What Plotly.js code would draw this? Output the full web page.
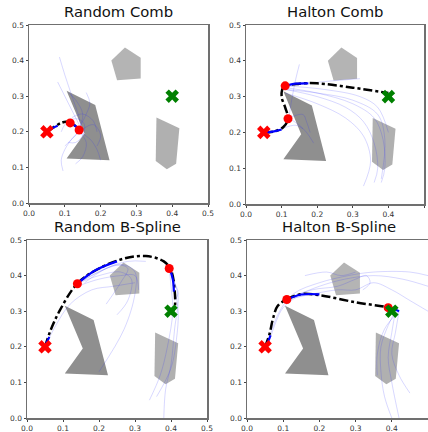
<!DOCTYPE html>
<html><head><meta charset="utf-8">
<script src="https://cdn.plot.ly/plotly-3.0.1.min.js"></script>
<style>html,body{margin:0;padding:0;background:#fff}#plot{width:428px;height:432px}</style>
</head><body><div id="plot"></div>
<script>
// ---- Data ----
const panelTitles = ["Random Comb", "Halton Comb", "Random B-Spline", "Halton B-Spline"];
const tickVals = [0.0, 0.1, 0.2, 0.3, 0.4, 0.5];
const tickText = ["0.0", "0.1", "0.2", "0.3", "0.4", "0.5"];

const obstacleArrowX = [0.105, 0.185, 0.225, 0.105, 0.155, 0.105];
const obstacleArrowY = [0.315, 0.275, 0.120, 0.125, 0.195, 0.315];
const obstaclePentX = [0.268, 0.312, 0.312, 0.246, 0.230, 0.268];
const obstaclePentY = [0.437, 0.408, 0.350, 0.345, 0.400, 0.437];
const obstacleQuadX = [0.356, 0.420, 0.411, 0.385, 0.354, 0.356];
const obstacleQuadY = [0.240, 0.210, 0.110, 0.095, 0.118, 0.240];

const startX = [0.05], startY = [0.20];
const goalX = [0.40], goalY = [0.30];

// Random Comb
const rcPathX = [0.05, 0.09, 0.105, 0.125, 0.14];
const rcPathY = [0.20, 0.225, 0.228, 0.22, 0.205];
const rcWayX = [0.115, 0.14];
const rcWayY = [0.225, 0.205];
const rcSegs = [
  [[0.05, 0.065, 0.08], [0.20, 0.21, 0.217]],
  [[0.118, 0.13, 0.14], [0.223, 0.216, 0.205]]
];
const rcFaint = [
  [[0.085, 0.10, 0.12, 0.14, 0.145], [0.41, 0.36, 0.30, 0.24, 0.21]],
  [[0.08, 0.10, 0.12, 0.14], [0.34, 0.30, 0.26, 0.22]],
  [[0.14, 0.16, 0.17, 0.16], [0.21, 0.25, 0.28, 0.31]],
  [[0.14, 0.12, 0.10, 0.09, 0.095], [0.20, 0.18, 0.15, 0.12, 0.09]],
  [[0.14, 0.17, 0.19, 0.20], [0.20, 0.18, 0.15, 0.12]],
  [[0.09, 0.10, 0.12, 0.14, 0.155, 0.15, 0.13, 0.11], [0.20, 0.22, 0.235, 0.235, 0.22, 0.19, 0.17, 0.17]],
  [[0.10, 0.12, 0.14, 0.18, 0.20, 0.19], [0.16, 0.18, 0.20, 0.22, 0.19, 0.16]],
  [[0.14, 0.15, 0.13, 0.11], [0.205, 0.25, 0.29, 0.31]],
  [[0.14, 0.16, 0.15, 0.13], [0.20, 0.17, 0.13, 0.11]],
  [[0.12, 0.15, 0.18, 0.19], [0.24, 0.25, 0.23, 0.20]]
];

// Halton Comb
const hcPathX = [0.05, 0.08, 0.105, 0.118, 0.11, 0.10, 0.105, 0.15, 0.20, 0.30, 0.40];
const hcPathY = [0.20, 0.203, 0.215, 0.238, 0.27, 0.30, 0.325, 0.336, 0.337, 0.325, 0.31];
const hcWayX = [0.11, 0.118];
const hcWayY = [0.33, 0.238];
const hcSegs = [
  [[0.05, 0.075, 0.10], [0.20, 0.202, 0.208]],
  [[0.11, 0.14, 0.175], [0.33, 0.336, 0.337]]
];
const hcFaint = [
  [[0.11, 0.20, 0.28, 0.32], [0.33, 0.34, 0.347, 0.35]],
  [[0.11, 0.20, 0.28, 0.33, 0.36, 0.37, 0.36], [0.32, 0.30, 0.27, 0.23, 0.17, 0.10, 0.06]],
  [[0.11, 0.20, 0.30, 0.36, 0.385, 0.39, 0.38], [0.325, 0.31, 0.28, 0.24, 0.18, 0.10, 0.06]],
  [[0.11, 0.20, 0.28, 0.33, 0.35, 0.33], [0.31, 0.28, 0.24, 0.19, 0.12, 0.05]],
  [[0.11, 0.22, 0.32, 0.37, 0.40], [0.33, 0.32, 0.30, 0.27, 0.20]],
  [[0.12, 0.13, 0.14, 0.15], [0.24, 0.30, 0.35, 0.39]],
  [[0.12, 0.15, 0.17, 0.19], [0.24, 0.22, 0.20, 0.17]],
  [[0.12, 0.16, 0.17, 0.18], [0.24, 0.25, 0.23, 0.20]],
  [[0.10, 0.14, 0.16], [0.21, 0.22, 0.21]],
  [[0.11, 0.20, 0.30, 0.37, 0.39, 0.38], [0.32, 0.31, 0.29, 0.25, 0.18, 0.07]]
];

// Random B-Spline
const rbPathX = [0.05, 0.065, 0.09, 0.14, 0.20, 0.27, 0.33, 0.38, 0.40, 0.41, 0.41, 0.40];
const rbPathY = [0.20, 0.245, 0.30, 0.378, 0.42, 0.448, 0.455, 0.44, 0.415, 0.36, 0.31, 0.29];
const rbWayX = [0.14, 0.395];
const rbWayY = [0.377, 0.42];
const rbSegs = [
  [[0.05, 0.055, 0.062], [0.20, 0.212, 0.228]],
  [[0.14, 0.19, 0.25], [0.378, 0.415, 0.44]],
  [[0.397, 0.405, 0.408], [0.418, 0.39, 0.355]]
];
const rbFaint = [
  [[0.05, 0.08, 0.12, 0.18, 0.24, 0.30], [0.20, 0.26, 0.32, 0.36, 0.37, 0.38]],
  [[0.14, 0.20, 0.25, 0.28, 0.26, 0.22], [0.378, 0.41, 0.43, 0.42, 0.38, 0.32]],
  [[0.14, 0.20, 0.26, 0.29, 0.28, 0.25], [0.378, 0.40, 0.41, 0.39, 0.33, 0.29]],
  [[0.14, 0.22, 0.27, 0.30, 0.30, 0.27, 0.20], [0.378, 0.42, 0.43, 0.41, 0.35, 0.25, 0.13]],
  [[0.14, 0.20, 0.26, 0.30, 0.31], [0.37, 0.39, 0.40, 0.40, 0.36]],
  [[0.395, 0.41, 0.42, 0.41, 0.40, 0.385, 0.38], [0.42, 0.38, 0.34, 0.25, 0.15, 0.08, 0.0]],
  [[0.395, 0.40, 0.405, 0.39, 0.37, 0.34], [0.42, 0.37, 0.30, 0.20, 0.12, 0.05]],
  [[0.395, 0.41, 0.42, 0.415, 0.40, 0.36], [0.42, 0.36, 0.30, 0.22, 0.14, 0.06]],
  [[0.395, 0.41, 0.42, 0.41], [0.42, 0.38, 0.35, 0.33]],
  [[0.16, 0.22, 0.28, 0.33], [0.38, 0.42, 0.44, 0.44]]
];

// Halton B-Spline
const hbPathX = [0.05, 0.062, 0.072, 0.085, 0.11, 0.15, 0.20, 0.30, 0.39, 0.40];
const hbPathY = [0.20, 0.235, 0.28, 0.315, 0.333, 0.348, 0.345, 0.325, 0.31, 0.305];
const hbWayX = [0.11, 0.39];
const hbWayY = [0.333, 0.31];
const hbSegs = [
  [[0.05, 0.057, 0.065], [0.20, 0.212, 0.232]],
  [[0.11, 0.15, 0.20], [0.333, 0.347, 0.347]],
  [[0.39, 0.405, 0.42], [0.31, 0.307, 0.30]]
];
const hbFaint = [
  [[0.06, 0.09, 0.13, 0.20, 0.28, 0.35, 0.45, 0.50], [0.22, 0.30, 0.35, 0.38, 0.40, 0.41, 0.41, 0.40]],
  [[0.11, 0.18, 0.25, 0.30, 0.33, 0.34, 0.32], [0.333, 0.36, 0.37, 0.39, 0.40, 0.38, 0.36]],
  [[0.11, 0.20, 0.27, 0.35, 0.43, 0.50], [0.333, 0.37, 0.39, 0.40, 0.39, 0.37]],
  [[0.11, 0.19, 0.25, 0.30, 0.35, 0.40, 0.45, 0.50], [0.333, 0.35, 0.36, 0.36, 0.38, 0.36, 0.33, 0.30]],
  [[0.06, 0.08, 0.10, 0.14, 0.20], [0.21, 0.27, 0.31, 0.34, 0.35]],
  [[0.41, 0.39, 0.37, 0.37, 0.38, 0.40], [0.30, 0.26, 0.20, 0.13, 0.06, 0.0]],
  [[0.41, 0.40, 0.39, 0.40, 0.42], [0.30, 0.24, 0.17, 0.10, 0.0]],
  [[0.42, 0.41, 0.40, 0.42, 0.45], [0.30, 0.24, 0.18, 0.12, 0.07]],
  [[0.42, 0.38, 0.36, 0.36], [0.30, 0.25, 0.18, 0.12]],
  [[0.16, 0.22, 0.26, 0.30], [0.40, 0.41, 0.40, 0.41]]
];

const panels = [
  {path: [rcPathX, rcPathY], way: [rcWayX, rcWayY], segs: rcSegs, faint: rcFaint},
  {path: [hcPathX, hcPathY], way: [hcWayX, hcWayY], segs: hcSegs, faint: hcFaint},
  {path: [rbPathX, rbPathY], way: [rbWayX, rbWayY], segs: rbSegs, faint: rbFaint},
  {path: [hbPathX, hbPathY], way: [hbWayX, hbWayY], segs: hbSegs, faint: hbFaint}
];

// ---- Build ----
const traces = [];
panels.forEach((p, i) => {
  const xa = i === 0 ? 'x' : 'x' + (i + 1);
  const ya = i === 0 ? 'y' : 'y' + (i + 1);
  const base = {xaxis: xa, yaxis: ya, showlegend: false, hoverinfo: 'skip'};
  traces.push(Object.assign({}, base, {x: obstacleArrowX, y: obstacleArrowY, mode: 'lines', fill: 'toself', fillcolor: '#8f8f8f', line: {width: 0, color: '#8f8f8f'}}));
  traces.push(Object.assign({}, base, {x: obstaclePentX, y: obstaclePentY, mode: 'lines', fill: 'toself', fillcolor: '#b4b4b4', line: {width: 0, color: '#b4b4b4'}}));
  traces.push(Object.assign({}, base, {x: obstacleQuadX, y: obstacleQuadY, mode: 'lines', fill: 'toself', fillcolor: '#b0b0b0', line: {width: 0, color: '#b0b0b0'}}));
  p.faint.forEach(f => {
    traces.push(Object.assign({}, base, {x: f[0], y: f[1], mode: 'lines', line: {color: 'rgba(40,40,255,0.18)', width: 1, shape: 'spline'}}));
  });
  traces.push(Object.assign({}, base, {x: p.path[0], y: p.path[1], mode: 'lines', line: {color: '#000', width: 2.5, dash: 'dashdot', shape: 'spline'}}));
  p.segs.forEach(s => {
    traces.push(Object.assign({}, base, {x: s[0], y: s[1], mode: 'lines', line: {color: '#0000ff', width: 2.2, shape: 'spline'}}));
  });
  traces.push(Object.assign({}, base, {x: p.way[0], y: p.way[1], mode: 'markers', marker: {color: '#ff0000', size: 9, symbol: 'circle'}}));
  traces.push(Object.assign({}, base, {x: startX, y: startY, mode: 'markers', marker: {color: '#ff0000', size: 12, symbol: 'x'}}));
  traces.push(Object.assign({}, base, {x: goalX, y: goalY, mode: 'markers', marker: {color: '#008000', size: 12, symbol: 'x'}}));
});

const W = 428, H = 432;
// pixel boxes: [left, right, top, bottom]
const boxes = [[29, 208, 25, 203], [246, 424, 25, 204], [27, 207, 240, 418], [247, 428, 240, 418]];
const layout = {
  width: W, height: H, margin: {l: 0, r: 0, t: 0, b: 0},
  paper_bgcolor: '#fff', plot_bgcolor: '#fff',
  font: {family: 'DejaVu Sans, sans-serif', color: '#333'},
  annotations: []
};
boxes.forEach((b, i) => {
  const sfx = i === 0 ? '' : (i + 1);
  const common = {
    showgrid: false, zeroline: false, showline: true, mirror: true,
    linecolor: '#707070', linewidth: 1.5, ticks: 'outside', ticklen: 2,
    tickcolor: '#444', tickwidth: 1, tickvals: tickVals, ticktext: tickText,
    tickfont: {size: 7.5, color: '#333', family: 'DejaVu Sans, sans-serif'}, fixedrange: true
  };
  const xr = i === 3 ? [0, 0.5 * (b[1] - b[0]) / 181] : [0, 0.5];
  layout['xaxis' + sfx] = Object.assign({}, common, {domain: [b[0] / W, b[1] / W], range: xr, anchor: 'y' + sfx});
  layout['yaxis' + sfx] = Object.assign({}, common, {domain: [1 - b[3] / H, 1 - b[2] / H], range: [0, 0.5], anchor: 'x' + sfx});
  layout.annotations.push({
    text: panelTitles[i], xref: 'paper', yref: 'paper',
    x: ((b[0] + (i === 3 ? 431 : b[1])) / 2) / W, y: 1 - (b[2] - 3) / H,
    xanchor: 'center', yanchor: 'bottom', showarrow: false,
    font: {size: 14.8, color: '#111', family: 'DejaVu Sans, sans-serif'}
  });
});
Plotly.newPlot('plot', traces, layout, {displayModeBar: false, staticPlot: true});
</script></body></html>
